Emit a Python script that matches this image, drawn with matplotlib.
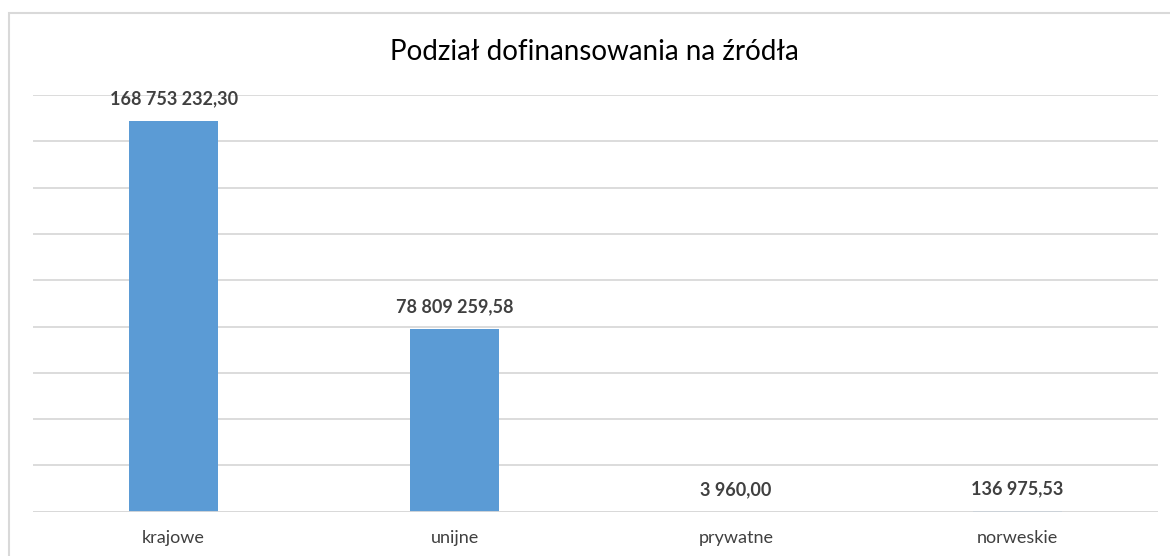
import matplotlib.pyplot as plt
from matplotlib.patches import Rectangle

kategorie = ['krajowe', 'unijne', 'prywatne', 'norweskie']
wartosci = [168753232.30, 78809259.58, 3960.00, 136975.53]
etykiety = ['168 753 232,30', '78 809 259,58', '3 960,00', '136 975,53']
tytul = 'Podział dofinansowania na źródła'

plt.rcParams['font.family'] = ['Lato', 'DejaVu Sans']

fig = plt.figure(figsize=(11.7, 5.56), dpi=100)
ax = fig.add_axes([33 / 1170, 1 - 511.7 / 556, 1125 / 1170, (511.7 - 95) / 556])

# ramka wykresu
fig.patches.append(Rectangle((9 / 1170, -0.1), 1.2, 1.1 - 13 / 556,
                             transform=fig.transFigure, fill=False,
                             edgecolor='#d9d9d9', linewidth=1.5))

x = range(len(kategorie))
ax.bar(x, wartosci, width=0.316, color='#5b9bd5', zorder=3)
ax.set_xlim(-0.5, len(kategorie) - 0.5)
ax.set_ylim(0, 180e6)
ax.set_yticks([i * 20e6 for i in range(10)])
ax.grid(axis='y', color='#d9d9d9', linewidth=1.3, zorder=0)
ax.axhline(0, color='#d9d9d9', linewidth=1.3, zorder=4)
ax.tick_params(axis='y', left=False, labelleft=False)
ax.tick_params(axis='x', bottom=False, pad=10, labelsize=13, labelcolor='#404040')
ax.set_xticks(list(x))
ax.set_xticklabels(kategorie)
for s in ax.spines.values():
    s.set_visible(False)

for i, (w, e) in enumerate(zip(wartosci, etykiety)):
    ax.annotate(e, (i, w), xytext=(0, 10), textcoords='offset points',
                ha='center', va='bottom', fontsize=13, fontweight='bold',
                color='#404040')

fig.text(594 / 1170, 1 - 52 / 556, tytul, ha='center', va='center',
         fontsize=20, color='#000000')

fig.savefig('out.png', dpi=100)
